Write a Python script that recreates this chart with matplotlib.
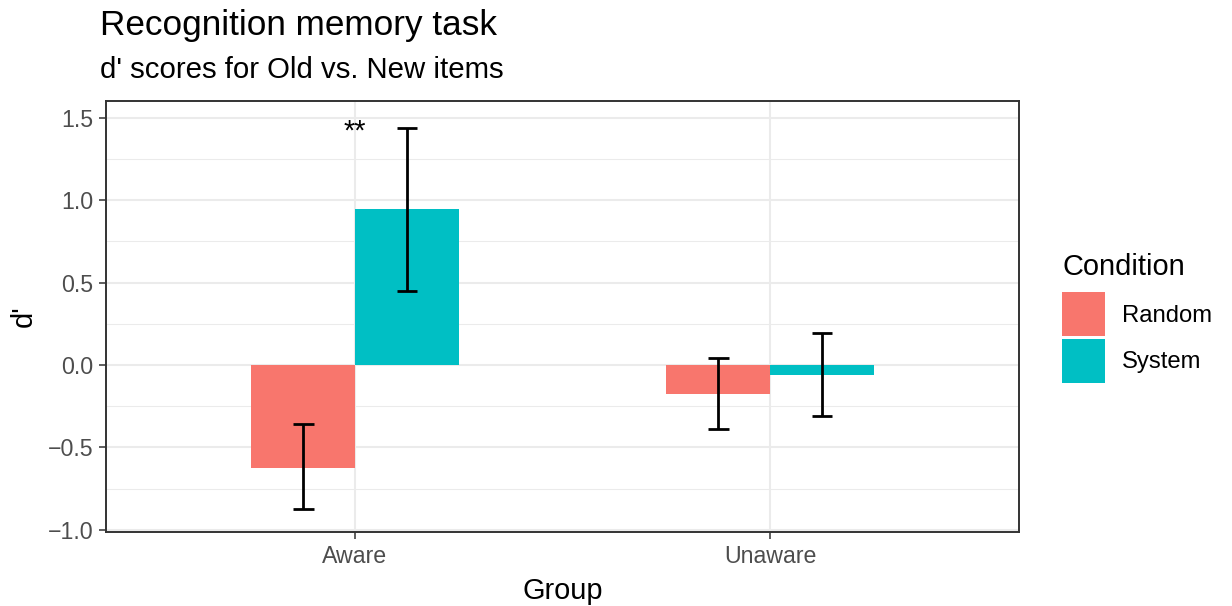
import matplotlib
matplotlib.use("Agg")
import matplotlib.pyplot as plt
from matplotlib.patches import Patch
from matplotlib.ticker import MultipleLocator
import numpy as np

plt.rcParams['font.family'] = ['Liberation Sans', 'DejaVu Sans']

# Data
groups = ["Aware", "Unaware"]
conditions = ["Random", "System"]
d_prime = {"Random": [-0.624, -0.174], "System": [0.946, -0.061]}
err_low = {"Random": [-0.873, -0.388], "System": [0.449, -0.309]}
err_high = {"Random": [-0.360, 0.044], "System": [1.435, 0.192]}
colors = {"Random": "#F8766D", "System": "#00BFC4"}
sig_labels = ["**", ""]

W, H = 1232, 606
fig = plt.figure(figsize=(W / 100, H / 100), dpi=100)
ax = fig.add_axes([106 / W, 1 - 532.3 / H, (1019 - 106) / W, (532.3 - 101) / H])

x = np.arange(1, len(groups) + 1)
bar_w = 0.25
offsets = {"Random": -bar_w / 2, "System": bar_w / 2}

for cond in conditions:
    xs = x + offsets[cond]
    vals = np.array(d_prime[cond])
    ax.bar(xs, vals, width=bar_w, color=colors[cond], zorder=2, linewidth=0)
    lo = np.array(err_low[cond])
    hi = np.array(err_high[cond])
    ax.vlines(xs, lo, hi, color="black", linewidth=2.0, zorder=3)
    cap = 0.025
    ax.hlines(lo, xs - cap, xs + cap, color="black", linewidth=2.0, zorder=3)
    ax.hlines(hi, xs - cap, xs + cap, color="black", linewidth=2.0, zorder=3)

# Significance marks over each group, at the height of the tallest whisker
for i, lab in enumerate(sig_labels):
    if lab:
        top = max(err_high[c][i] for c in conditions)
        ax.annotate(lab, xy=(x[i], top), xytext=(0, -8.4), textcoords="offset points",
                    ha="center", va="baseline", fontsize=20.9, color="black", zorder=4)

ax.set_xlim(0.4, 2.6)
ax.set_ylim(-1.0147, 1.601)
ax.set_xticks(x)
ax.set_xticklabels(groups)
ax.yaxis.set_major_locator(MultipleLocator(0.5))
ax.yaxis.set_minor_locator(MultipleLocator(0.25))
ax.set_yticklabels([f"{v:.1f}".replace("-", "\u2212") for v in ax.get_yticks()])

ax.grid(which="major", color="#EBEBEB", linewidth=1.5, zorder=0)
ax.grid(which="minor", axis="y", color="#EBEBEB", linewidth=0.75, zorder=0)
ax.set_axisbelow(True)
for s in ax.spines.values():
    s.set_color("#333333")
    s.set_linewidth(1.4)
ax.tick_params(which="major", length=5.2, width=1.1, color="#333333",
               labelsize=16.7, labelcolor="#4D4D4D", pad=4)
ax.tick_params(which="minor", length=0)

# Titles and axis labels
fig.text(100 / W, 1 - 35 / H, "Recognition memory task", fontsize=25.3, va="baseline", ha="left")
fig.text(100 / W, 1 - 78 / H, "d' scores for Old vs. New items", fontsize=21.2, va="baseline", ha="left")
fig.text((106 + 1019) / 2 / W, 1 - 599 / H, "Group", fontsize=20.9, ha="center", va="baseline")
fig.text(32 / W, 1 - 316.5 / H, "d'", fontsize=20.9, rotation=90, ha="center", va="baseline",
         rotation_mode="anchor")

handles = [Patch(facecolor=colors[c], edgecolor="none", label=c) for c in conditions]
leg = fig.legend(handles=handles, title="Condition", loc="upper left",
                 bbox_to_anchor=(1062 / W, 1 - 253 / H), frameon=False,
                 fontsize=17.2, title_fontsize=20.9, handlelength=1.8, handleheight=2.45,
                 labelspacing=0.1, handletextpad=0.7, borderpad=0, borderaxespad=0,
                 alignment="left")
# extra room between the legend title and its keys
leg._legend_box.sep = 8.2

fig.savefig("out.png", dpi=100)
